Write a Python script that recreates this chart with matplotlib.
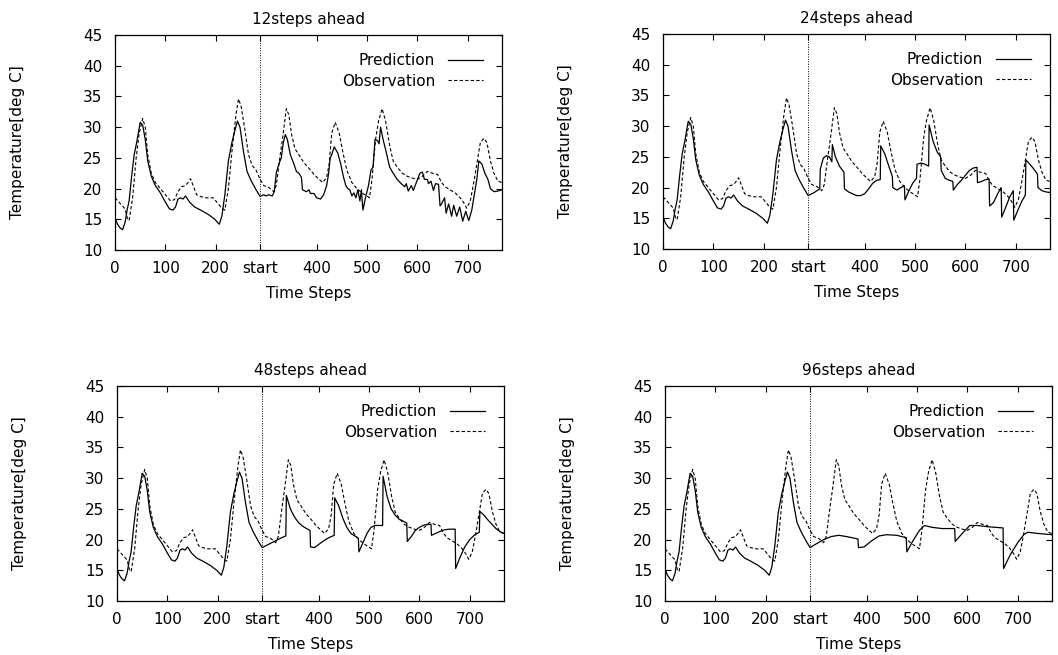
import matplotlib
matplotlib.use("Agg")
from matplotlib import pyplot as plt

# observacion (igual en los cuatro paneles)
obs_t = [0, 10, 20, 25, 28, 35, 42, 48, 55, 60, 65, 72, 80, 90, 100, 110, 118, 125, 132,
         140, 145, 150, 155, 162, 170, 180, 195, 205, 212, 218, 225, 232, 240, 245, 250,
         257, 265, 272, 280, 288, 295, 305, 315, 320, 327, 333, 340, 345, 350, 357, 365,
         375, 385, 395, 405, 412, 420, 425, 430, 437, 445, 452, 460, 470, 480, 490, 500,
         505, 510, 517, 523, 530, 537, 545, 552, 560, 570, 580, 590, 600, 610, 620, 630,
         640, 648, 655, 665, 675, 685, 692, 698, 705, 712, 718, 725, 732, 738, 745, 752,
         760, 768]
obs_v = [18.5, 17.6, 16.7, 15.0, 14.8, 18.5, 25, 29, 31.4, 30, 25.5, 22.5, 21, 20, 19, 18,
         18.2, 19.5, 20.3, 20.5, 21, 21.6, 20.5, 19, 18.7, 18.5, 18.5, 17.5, 16.8, 16.5, 20,
         26, 32, 34.6, 33.5, 30, 25.5, 23.8, 23, 21.5, 20.5, 20.2, 19.5, 20.5, 25, 28.5, 33,
         32, 29, 26.5, 25.5, 24.2, 23.3, 22.3, 21.5, 21, 21.8, 24, 29, 30.8, 29, 26, 23, 21,
         20, 19.3, 18.8, 18.5, 21.5, 28, 31, 33, 31, 27, 24.5, 23.5, 22.5, 22, 21.7, 21.5,
         22, 22.8, 22.5, 22.3, 21, 20.3, 19.8, 19.3, 18.5, 17.7, 16.8, 18, 21, 24, 27.5,
         28.2, 27.5, 24.5, 22.5, 21.2, 21]

# prediccion antes de "start" (comun)
pre_t = [0, 5, 10, 15, 20, 24, 28, 33, 38, 43, 50, 55, 60, 65, 72, 80, 90, 100, 108, 115,
         120, 125, 130, 135, 140, 148, 158, 170, 185, 198, 207, 212, 218, 225, 232, 238,
         243, 248, 255, 262, 270, 280, 288]
pre_v = [15.2, 14.2, 13.6, 13.3, 14.5, 16.5, 18, 22, 25.5, 27.5, 30.8, 30.3, 28, 24.5, 22,
         20.5, 19.3, 17.8, 16.7, 16.5, 17, 18.3, 18.5, 18.3, 18.8, 17.8, 17, 16.5, 15.8, 15,
         14.2, 15.5, 19, 24.5, 27.5, 29.5, 31, 30, 26, 22.8, 21.3, 19.8, 18.7]

# prediccion despues de "start"
p12_t = [295, 300, 305, 312, 316, 320, 325, 330, 334, 338, 342, 348, 355, 360, 365, 370,
         372, 380, 385, 388, 395, 400, 408, 414, 420, 424, 427, 430, 435, 442, 448, 453,
         458, 462, 466, 470, 474, 478, 482, 486, 489, 492, 497, 503, 508, 512, 516, 521,
         524, 527, 532, 538, 545, 552, 560, 568, 575, 578, 582, 588, 592, 598, 605, 610,
         614, 620, 622, 627, 632, 636, 642, 645, 648, 654, 657, 662, 668, 672, 678, 684,
         690, 696, 702, 708, 714, 718, 722, 728, 734, 740, 745, 752, 760, 768]
p12_v = [19, 18.8, 19, 18.8, 19.5, 22.5, 24, 25, 27.5, 28.8, 28, 25.5, 24, 22.8, 22.5,
         21.8, 19.8, 19.5, 19.8, 19.2, 19.2, 18.5, 18.3, 19, 20.5, 22.5, 25, 25.5, 26.8,
         25.8, 24, 22, 20.5, 20, 19.8, 18.8, 19.3, 18.5, 19.8, 18, 19.8, 16.5, 18.5, 20.5,
         23, 23.5, 28, 27.8, 27.3, 30, 28, 26, 23.5, 22.5, 21.5, 20.8, 20.3, 20.8, 19.6,
         20.5, 19.7, 21, 22.5, 22.7, 21.5, 21.5, 20.8, 21.2, 19.7, 20.8, 20.7, 17.2, 17.5,
         18.5, 16, 17.5, 15.5, 17.3, 15.5, 17, 14.7, 16.3, 14.8, 16.5, 19.5, 21.5, 24.5,
         24, 22.5, 21.5, 20, 19.5, 19.6, 19.8]

p24_t = [300, 311, 312, 318, 324, 330, 335, 336, 342, 350, 359, 360, 368, 376, 384, 392,
         400, 408, 416, 424, 431, 432, 440, 448, 455, 456, 464, 472, 479, 480, 488, 496,
         503, 504, 512, 520, 527, 528, 536, 544, 551, 552, 560, 568, 575, 576, 584, 592,
         600, 608, 616, 623, 624, 632, 640, 647, 648, 656, 664, 671, 672, 680, 688, 695,
         696, 704, 712, 719, 720, 728, 736, 743, 744, 752, 760, 768]
p24_v = [19.2, 19.8, 23, 24.8, 25.2, 25, 24.2, 27, 25, 23.5, 22.5, 19.8, 19.3, 19, 18.7,
         18.7, 19, 19.8, 20.7, 21.2, 21.3, 26.8, 25.5, 23.5, 21.8, 20, 19.6, 20, 20.3, 18,
         19.5, 20.8, 21.5, 23.8, 24, 23.8, 23.5, 30.2, 27.5, 25.8, 25, 22.8, 21.5, 21.2, 21,
         19.6, 20.5, 21.2, 22, 22.8, 23.2, 23.3, 20.8, 21, 21.3, 21.4, 17, 17.6, 19, 20,
         15.2, 16.8, 18.5, 19.5, 14.7, 16.3, 17.8, 18.8, 24.5, 23.8, 23, 22.2, 20, 19.5,
         19.3, 19.2]

p48_t = [300, 312, 324, 335, 336, 344, 352, 360, 368, 376, 383, 384, 392, 400, 410, 420,
         431, 432, 440, 448, 456, 464, 472, 479, 480, 488, 496, 504, 512, 520, 527, 528,
         536, 544, 552, 560, 568, 575, 576, 584, 592, 600, 610, 623, 624, 632, 640, 650,
         660, 671, 672, 680, 690, 700, 710, 719, 720, 728, 736, 744, 752, 760, 768]
p48_v = [19.2, 19.7, 20.2, 20.6, 27.2, 25, 23.7, 22.8, 22.2, 21.8, 21.5, 18.8, 18.7, 19.2,
         19.8, 20.3, 20.7, 26.8, 25.5, 23.5, 22, 21, 20.6, 20.2, 18, 19.5, 21, 22, 22.3,
         22.3, 22.3, 30.3, 27, 25, 24, 23.3, 23, 22.7, 19.7, 20.5, 21.5, 22, 22.4, 22.5,
         20.7, 21, 21.3, 21.6, 21.7, 21.7, 15.3, 17, 18.8, 20, 20.8, 21.2, 24.6, 24, 23.2,
         22.5, 21.8, 21.3, 21]

p96_t = [300, 315, 330, 345, 360, 372, 383, 384, 395, 410, 425, 440, 460, 479, 480, 490,
         505, 515, 530, 550, 575, 576, 590, 605, 620, 640, 671, 672, 685, 700, 712, 720,
         740, 768]
p96_v = [19.3, 20, 20.5, 20.7, 20.5, 20.3, 20.1, 18.7, 18.8, 19.8, 20.6, 20.8, 20.7, 20.3,
         18, 19.5, 21.5, 22.3, 22, 21.8, 21.8, 19.7, 21, 22.3, 22.3, 22.1, 21.9, 15.3, 17.5,
         19.5, 20.8, 21.2, 21, 20.8]

titulos = ["12steps ahead", "24steps ahead", "48steps ahead", "96steps ahead"]
post_t = [p12_t, p24_t, p48_t, p96_t]
post_v = [p12_v, p24_v, p48_v, p96_v]

x_ticks = [0, 100, 200, 288, 400, 500, 600, 700]
x_labels = ["0", "100", "200", "start", "400", "500", "600", "700"]
y_ticks = [10, 15, 20, 25, 30, 35, 40, 45]
inicio = 288

plt.rcParams['font.family'] = ['DejaVu Sans']
fs = 11

fig = plt.figure(figsize=(10.58, 6.55), dpi=100)
posiciones = [
    [0.1087, 0.6183, 0.3658, 0.3282],
    [0.6267, 0.6198, 0.3658, 0.3282],
    [0.1106, 0.0824, 0.3658, 0.3282],
    [0.6285, 0.0824, 0.3658, 0.3282],
]

for i in range(4):
    ax = fig.add_axes(posiciones[i])
    # prediccion = tramo comun + tramo propio del horizonte
    ax.plot(pre_t + post_t[i], pre_v + post_v[i], color="black", lw=0.9,
            label="Prediction")
    ax.plot(obs_t, obs_v, color="black", lw=0.8, ls=(0, (3, 2)),
            label="Observation")
    ax.axvline(inicio, color="black", lw=0.7, ls=(0, (1, 1.5)))

    ax.set_xlim(0, 768)
    ax.set_ylim(10, 45)
    ax.set_xticks(x_ticks)
    ax.set_xticklabels(x_labels)
    ax.set_yticks(y_ticks)
    ax.tick_params(direction="in", top=True, right=True, length=4, width=0.8,
                   labelsize=fs)
    ax.tick_params(axis="x", pad=8)
    ax.tick_params(axis="y", pad=9)
    for s in ax.spines.values():
        s.set_linewidth(0.9)

    ax.set_title(titulos[i], fontsize=fs, pad=8)
    ax.set_xlabel("Time Steps", fontsize=fs)
    ax.xaxis.label.set_va("center")
    ax.xaxis.set_label_coords(0.5, -0.2)
    ax.set_ylabel("Temperature[deg C]", fontsize=fs)
    ax.yaxis.label.set_va("center")
    ax.yaxis.set_label_coords(-0.251, 0.5)

    ax.legend(loc="upper right", bbox_to_anchor=(0.951, 0.915), frameon=False,
              markerfirst=False, borderpad=0, borderaxespad=0, fontsize=fs,
              handlelength=2.3, handletextpad=0.85, labelspacing=0.35)

fig.savefig("out.png", dpi=100)
